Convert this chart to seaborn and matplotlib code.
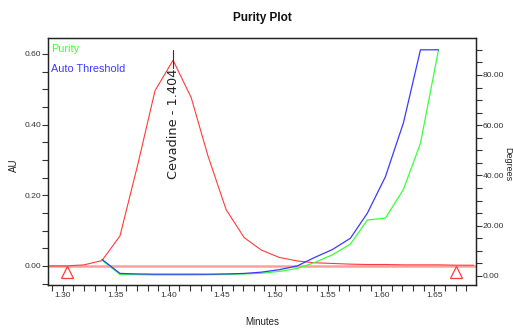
import matplotlib
matplotlib.use("Agg")
import matplotlib.pyplot as plt
import seaborn as sns
import pandas as pd
import numpy as np
from matplotlib.ticker import MultipleLocator, FormatStrFormatter

# ---- data ----
times_au = [1.287, 1.304, 1.320, 1.337, 1.354, 1.371, 1.387, 1.404, 1.421, 1.437,
            1.454, 1.471, 1.487, 1.504, 1.521, 1.537, 1.554, 1.571, 1.587, 1.604,
            1.621, 1.637, 1.654, 1.671, 1.687]
au_values = [0.0, 0.0, 0.003, 0.015, 0.085, 0.29, 0.496, 0.582, 0.477, 0.31,
             0.159, 0.08, 0.045, 0.024, 0.014, 0.009, 0.007, 0.005, 0.004, 0.004,
             0.003, 0.003, 0.003, 0.002, 0.002]
times_deg = [1.337, 1.354, 1.371, 1.387, 1.404, 1.421, 1.437, 1.454, 1.471, 1.487,
             1.504, 1.521, 1.537, 1.554, 1.571, 1.587, 1.604, 1.621, 1.637, 1.654]
threshold_deg = [6.6, 1.0, 0.8, 0.7, 0.7, 0.7, 0.7, 0.8, 1.0, 1.5,
                 2.5, 4.0, 7.3, 10.5, 15.0, 25.0, 39.5, 61.0, 90.0, 90.0]
purity_deg = [6.3, 0.6, 0.5, 0.4, 0.4, 0.4, 0.5, 0.6, 0.8, 1.1,
              1.8, 3.0, 5.3, 8.4, 12.7, 22.3, 23.0, 34.5, 52.8, 90.0]
peak_name = "Cevadine"
peak_time = 1.404
peak_height = 0.582
marker_times = [1.304, 1.670]

sns.set_style("ticks")
plt.rcParams['font.family'] = ['Liberation Sans', 'DejaVu Sans']

RED = "#ff3a3a"
BASE = "#ff9e9e"
BLUE = "#3a3aff"
GREEN = "#3aff3a"

fig = plt.figure(figsize=(5.13, 3.29), dpi=100)
ax = fig.add_axes([48/513, 44/329, 428/513, 247/329])
ax2 = ax.twinx()

df_au = pd.DataFrame({"t": times_au, "au": au_values})
df_deg = pd.DataFrame({"t": times_deg, "threshold": threshold_deg, "purity": purity_deg})

ax.axhline(0, color=BASE, lw=1.8, zorder=1)
sns.lineplot(data=df_au, x="t", y="au", ax=ax, color=RED, lw=0.8,
             estimator=None, sort=False, zorder=3)
ax.plot(marker_times, [-0.016] * len(marker_times), linestyle="none", marker="^",
        markersize=8, markerfacecolor="white", markeredgecolor=RED, markeredgewidth=0.9, zorder=4)

sns.lineplot(data=df_deg, x="t", y="purity", ax=ax2, color=GREEN, lw=0.9,
             estimator=None, sort=False)
sns.lineplot(data=df_deg, x="t", y="threshold", ax=ax2, color=BLUE, lw=0.9,
             estimator=None, sort=False)

# annotation
ax.plot([peak_time, peak_time], [0.56, 0.611], color="#333333", lw=0.8, zorder=5)
ax.text(peak_time, 0.557, f"{peak_name} - {peak_time:.3f}", rotation=90,
        ha="center", va="top", fontsize=9.3, color="#222222",
        family=['DejaVu Sans'], zorder=6)

ax.set_xlim(1.2862, 1.6893)
ax.set_ylim(-0.054, 0.645)
ax2.set_ylim(-3.6, 94.7)

ax.xaxis.set_major_locator(MultipleLocator(0.05))
ax.xaxis.set_minor_locator(MultipleLocator(0.01))
ax.xaxis.set_major_formatter(FormatStrFormatter("%.2f"))
ax.yaxis.set_major_locator(MultipleLocator(0.2))
ax.yaxis.set_minor_locator(MultipleLocator(0.05))
ax.yaxis.set_major_formatter(FormatStrFormatter("%.2f"))
ax2.yaxis.set_major_locator(MultipleLocator(20))
ax2.yaxis.set_minor_locator(MultipleLocator(5))
ax2.yaxis.set_major_formatter(FormatStrFormatter("%.2f"))

for a in (ax, ax2):
    a.tick_params(which="both", length=4, width=0.8, color="#333333",
                  labelsize=6.1, labelcolor="#333333", pad=1.0)
    for s in a.spines.values():
        s.set_visible(True)
        s.set_color("#222222")
        s.set_linewidth(0.9)

ax.set_xlabel("Minutes", fontsize=7, color="#222222")
ax.set_ylabel("AU", fontsize=7, color="#222222")
ax2.set_ylabel("")
ax.xaxis.label.set_va("center")
ax.yaxis.label.set_va("center")
ax.xaxis.set_label_coords(0.5, -0.15)
ax.yaxis.set_label_coords(-0.079, 0.486)
fig.text(508/513, 1 - 164/329, "Degrees", rotation=-90, ha="center", va="center",
         fontsize=6.5, color="#222222")

ax.text(0.008, 0.955, "Purity", transform=ax.transAxes, color=GREEN, fontsize=7.8,
        ha="left", va="center")
ax.text(0.008, 0.875, "Auto Threshold", transform=ax.transAxes, color=BLUE, fontsize=7.8,
        ha="left", va="center")

fig.text(262/513, 1 - 18/329, "Purity Plot", ha="center", va="center",
         fontsize=8.5, fontweight="bold", color="#111111")

fig.savefig("out.png", dpi=100, facecolor="white")
